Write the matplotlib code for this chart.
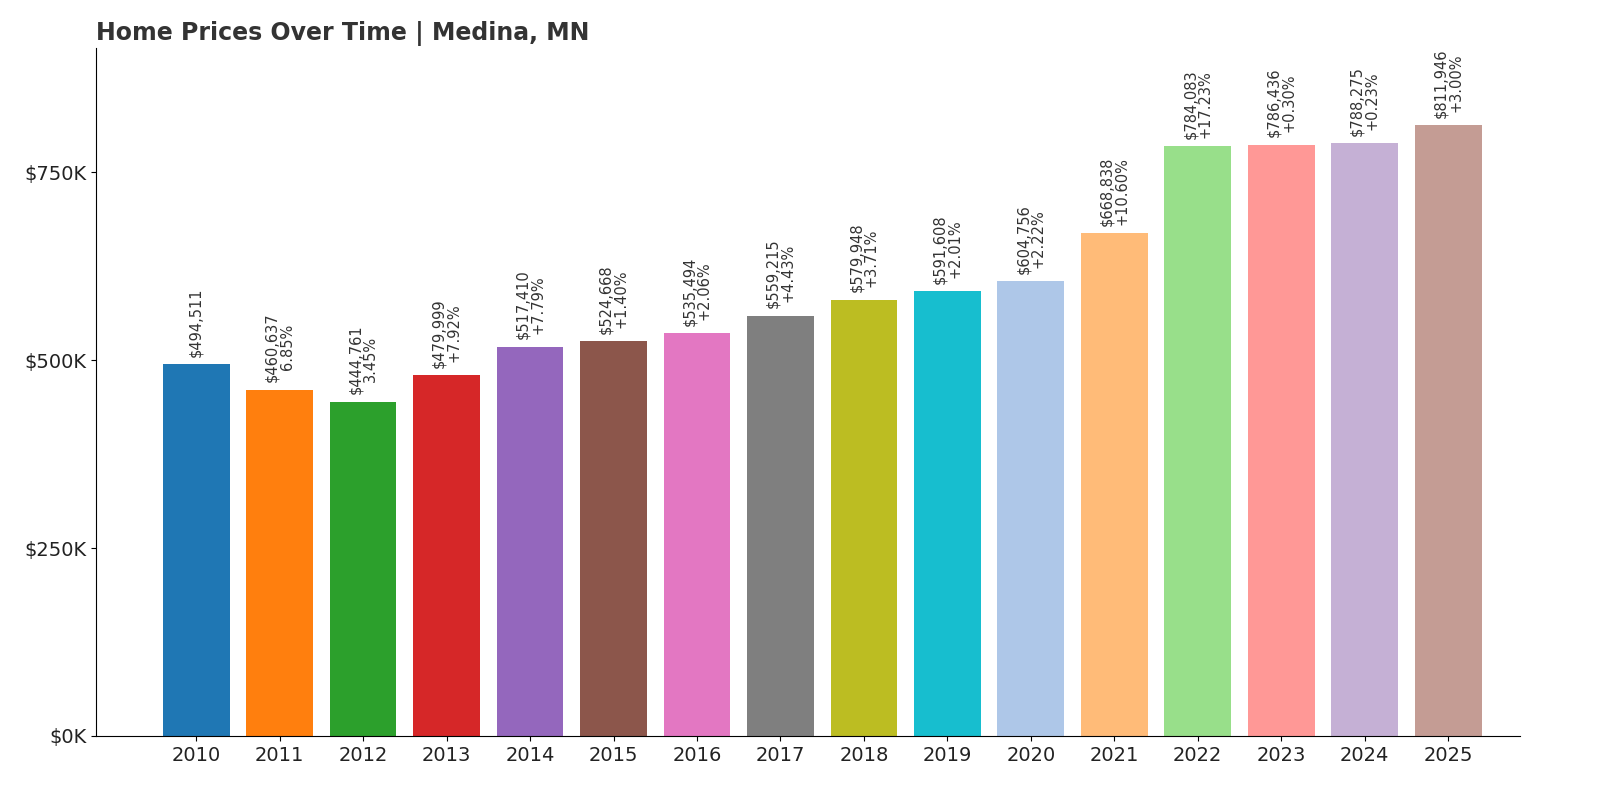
import matplotlib.pyplot as plt
import numpy as np

years = [str(y) for y in range(2010, 2026)]
prices = [494511, 460637, 444761, 479999, 517410, 524668, 535494, 559215,
          579948, 591608, 604756, 668838, 784083, 786436, 788275, 811946]
changes = ["", "6.85%", "3.45%", "+7.92%", "+7.79%", "+1.40%", "+2.06%", "+4.43%",
           "+3.71%", "+2.01%", "+2.22%", "+10.60%", "+17.23%", "+0.30%", "+0.23%", "+3.00%"]
colors = ["#1f77b4", "#ff7f0e", "#2ca02c", "#d62728", "#9467bd", "#8c564b", "#e377c2", "#7f7f7f",
          "#bcbd22", "#17becf", "#aec7e8", "#ffbb78", "#98df8a", "#ff9896", "#c5b0d5", "#c49c94"]

fig, ax = plt.subplots(figsize=(16, 8), dpi=100)
fig.subplots_adjust(left=0.06, right=0.95, bottom=0.08, top=0.94)
x = np.arange(len(years))
ax.bar(x, prices, width=0.8, color=colors)
for xi, p, c in zip(x, prices, changes):
    txt = f"${p:,}" + (f"\n{c}" if c else "")
    ax.text(xi, p + 10000, txt, rotation=90, ha="center", va="bottom",
            fontsize=10.5, color="#333333", linespacing=1.0)

ax.set_xticks(x)
ax.set_xticklabels(years, fontsize=14, color="#222222")
ax.set_yticks([0, 250000, 500000, 750000])
ax.set_yticklabels(["$0K", "$250K", "$500K", "$750K"], fontsize=14, color="#222222")
ax.set_xlim(-1.2, 15.86)
ax.set_ylim(0, 915000)
ax.spines["top"].set_visible(False)
ax.spines["right"].set_visible(False)
ax.set_title("Home Prices Over Time | Medina, MN", loc="left", fontsize=17,
             fontweight="bold", color="#333333", x=-0.0)
fig.savefig("out.png")
